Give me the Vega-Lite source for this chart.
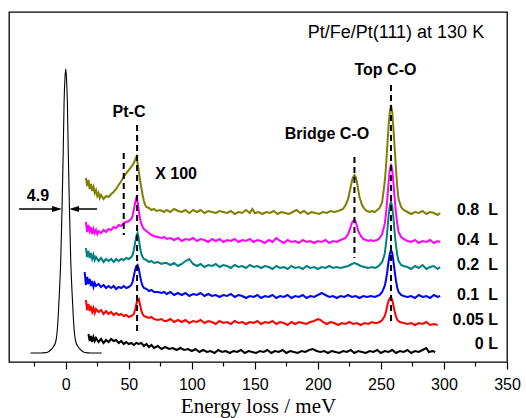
{
"$schema": "https://vega.github.io/schema/vega-lite/v6.json",
"width": 498, "height": 350,
"autosize": "none",
"padding": {"left": 9, "top": 12, "right": 19, "bottom": 56},
"background": "white",
"config": {"view": {"stroke": "#000", "strokeWidth": 1.3}, "font": "Liberation Sans"},
"datasets": {
"spec": [
{"s":"a","x":16,"y":184},{"s":"a","x":17,"y":176},{"s":"a","x":18,"y":182},{"s":"a","x":19,"y":173},{"s":"a","x":20,"y":178},{"s":"a","x":21,"y":171},{"s":"a","x":22,"y":175},{"s":"a","x":23,"y":169},{"s":"a","x":24,"y":172},{"s":"a","x":25,"y":166},{"s":"a","x":26,"y":169},{"s":"a","x":27,"y":164},{"s":"a","x":28,"y":167},{"s":"a","x":30,"y":163},{"s":"a","x":32,"y":166},{"s":"a","x":34,"y":165},{"s":"a","x":36,"y":168},{"s":"a","x":38,"y":170},{"s":"a","x":40,"y":173},{"s":"a","x":42,"y":177},{"s":"a","x":44,"y":181},{"s":"a","x":46,"y":185},{"s":"a","x":48,"y":189},{"s":"a","x":50,"y":192},{"s":"a","x":52,"y":195},{"s":"a","x":54,"y":199},{"s":"a","x":55,"y":202},{"s":"a","x":56,"y":205},{"s":"a","x":57,"y":199},{"s":"a","x":58,"y":190},{"s":"a","x":59,"y":181},{"s":"a","x":60,"y":174},{"s":"a","x":61,"y":167},{"s":"a","x":62,"y":161},{"s":"a","x":63,"y":157},{"s":"a","x":64,"y":155},{"s":"a","x":66,"y":154},{"s":"a","x":68,"y":152},{"s":"a","x":70,"y":153},{"s":"a","x":72,"y":151},{"s":"a","x":75,"y":152},{"s":"a","x":78,"y":150},
{"s":"a","x":80,"y":152},{"s":"a","x":83,"y":150},{"s":"a","x":86,"y":153},{"s":"a","x":89,"y":151},{"s":"a","x":92,"y":150},{"s":"a","x":95,"y":152},{"s":"a","x":98,"y":149},{"s":"a","x":101,"y":152},{"s":"a","x":104,"y":150},{"s":"a","x":107,"y":152},{"s":"a","x":110,"y":149},{"s":"a","x":113,"y":151},{"s":"a","x":116,"y":150},{"s":"a","x":119,"y":149},{"s":"a","x":122,"y":151},{"s":"a","x":125,"y":150},{"s":"a","x":128,"y":149},{"s":"a","x":131,"y":151},{"s":"a","x":134,"y":148},{"s":"a","x":137,"y":150},{"s":"a","x":140,"y":149},{"s":"a","x":143,"y":152},{"s":"a","x":146,"y":149},{"s":"a","x":148,"y":153},{"s":"a","x":150,"y":149},{"s":"a","x":153,"y":150},{"s":"a","x":156,"y":148},{"s":"a","x":159,"y":150},{"s":"a","x":162,"y":149},{"s":"a","x":165,"y":151},{"s":"a","x":168,"y":148},{"s":"a","x":171,"y":150},{"s":"a","x":174,"y":149},{"s":"a","x":177,"y":148},{"s":"a","x":180,"y":150},{"s":"a","x":183,"y":152},{"s":"a","x":186,"y":149},{"s":"a","x":189,"y":151},{"s":"a","x":192,"y":148},{"s":"a","x":195,"y":150},{"s":"a","x":198,"y":149},{"s":"a","x":201,"y":148},{"s":"a","x":204,"y":150},{"s":"a","x":207,"y":149},{"s":"a","x":210,"y":151},{"s":"a","x":213,"y":150},{"s":"a","x":216,"y":151},
{"s":"a","x":218,"y":152},{"s":"a","x":220,"y":153},{"s":"a","x":222,"y":157},{"s":"a","x":224,"y":163},{"s":"a","x":226,"y":175},{"s":"a","x":227,"y":181},{"s":"a","x":228,"y":185},{"s":"a","x":229,"y":187},{"s":"a","x":230,"y":185},{"s":"a","x":231,"y":180},{"s":"a","x":232,"y":172},{"s":"a","x":233,"y":165},{"s":"a","x":235,"y":157},{"s":"a","x":237,"y":153},{"s":"a","x":239,"y":151},{"s":"a","x":241,"y":150},{"s":"a","x":243,"y":151},{"s":"a","x":245,"y":150},
{"s":"a","x":247,"y":152},{"s":"a","x":249,"y":154},{"s":"a","x":251,"y":160},{"s":"a","x":253,"y":180},{"s":"a","x":254,"y":195},{"s":"a","x":255,"y":215},{"s":"a","x":256,"y":235},{"s":"a","x":257,"y":250},{"s":"a","x":258,"y":257},{"s":"a","x":259,"y":250},{"s":"a","x":260,"y":232},{"s":"a","x":261,"y":212},{"s":"a","x":262,"y":192},{"s":"a","x":263,"y":175},{"s":"a","x":264,"y":163},{"s":"a","x":266,"y":155},{"s":"a","x":268,"y":152},{"s":"a","x":271,"y":150},
{"s":"a","x":274,"y":148},{"s":"a","x":277,"y":150},{"s":"a","x":280,"y":149},{"s":"a","x":283,"y":151},{"s":"a","x":286,"y":148},{"s":"a","x":289,"y":150},{"s":"a","x":292,"y":149},{"s":"a","x":295,"y":147},{"s":"a","x":297,"y":149},

{"s":"b","x":16,"y":140},{"s":"b","x":17,"y":130},{"s":"b","x":18,"y":137},{"s":"b","x":19,"y":131},{"s":"b","x":20,"y":135},{"s":"b","x":21,"y":128},{"s":"b","x":22,"y":133},{"s":"b","x":23,"y":129},{"s":"b","x":24,"y":132},{"s":"b","x":25,"y":128},{"s":"b","x":26,"y":131},{"s":"b","x":28,"y":129},{"s":"b","x":30,"y":132},{"s":"b","x":32,"y":130},{"s":"b","x":34,"y":133},{"s":"b","x":36,"y":132},{"s":"b","x":38,"y":135},{"s":"b","x":40,"y":134},{"s":"b","x":42,"y":137},{"s":"b","x":44,"y":136},{"s":"b","x":46,"y":139},{"s":"b","x":48,"y":140},{"s":"b","x":50,"y":141},{"s":"b","x":52,"y":143},{"s":"b","x":53,"y":146},{"s":"b","x":54,"y":152},{"s":"b","x":55,"y":159},{"s":"b","x":56,"y":164},{"s":"b","x":57,"y":160},{"s":"b","x":58,"y":151},{"s":"b","x":59,"y":143},{"s":"b","x":60,"y":138},{"s":"b","x":61,"y":135},{"s":"b","x":62,"y":133},{"s":"b","x":64,"y":131},{"s":"b","x":66,"y":129},{"s":"b","x":68,"y":127},{"s":"b","x":70,"y":126},{"s":"b","x":73,"y":125},{"s":"b","x":76,"y":124},{"s":"b","x":78,"y":125},
{"s":"b","x":80,"y":123},{"s":"b","x":83,"y":124},{"s":"b","x":86,"y":122},{"s":"b","x":89,"y":124},{"s":"b","x":92,"y":121},{"s":"b","x":95,"y":123},{"s":"b","x":98,"y":122},{"s":"b","x":101,"y":124},{"s":"b","x":104,"y":121},{"s":"b","x":107,"y":123},{"s":"b","x":110,"y":122},{"s":"b","x":113,"y":120},{"s":"b","x":116,"y":123},{"s":"b","x":119,"y":121},{"s":"b","x":122,"y":123},{"s":"b","x":125,"y":120},{"s":"b","x":128,"y":122},{"s":"b","x":131,"y":121},{"s":"b","x":134,"y":123},{"s":"b","x":137,"y":120},{"s":"b","x":140,"y":122},{"s":"b","x":143,"y":121},{"s":"b","x":146,"y":123},{"s":"b","x":149,"y":120},{"s":"b","x":152,"y":122},{"s":"b","x":155,"y":121},{"s":"b","x":158,"y":119},{"s":"b","x":161,"y":122},{"s":"b","x":164,"y":120},{"s":"b","x":167,"y":124},{"s":"b","x":170,"y":121},{"s":"b","x":173,"y":119},{"s":"b","x":176,"y":122},{"s":"b","x":179,"y":120},{"s":"b","x":182,"y":121},{"s":"b","x":185,"y":119},{"s":"b","x":188,"y":122},{"s":"b","x":191,"y":120},{"s":"b","x":194,"y":121},{"s":"b","x":197,"y":119},{"s":"b","x":200,"y":121},{"s":"b","x":203,"y":120},{"s":"b","x":206,"y":122},{"s":"b","x":209,"y":119},{"s":"b","x":212,"y":121},{"s":"b","x":215,"y":120},
{"s":"b","x":218,"y":122},{"s":"b","x":220,"y":123},{"s":"b","x":222,"y":124},{"s":"b","x":224,"y":128},{"s":"b","x":226,"y":135},{"s":"b","x":227,"y":139},{"s":"b","x":228,"y":141},{"s":"b","x":229,"y":142},{"s":"b","x":230,"y":140},{"s":"b","x":231,"y":136},{"s":"b","x":232,"y":131},{"s":"b","x":234,"y":126},{"s":"b","x":236,"y":123},{"s":"b","x":238,"y":122},{"s":"b","x":240,"y":121},{"s":"b","x":242,"y":122},{"s":"b","x":244,"y":121},
{"s":"b","x":247,"y":122},{"s":"b","x":249,"y":124},{"s":"b","x":251,"y":128},{"s":"b","x":253,"y":138},{"s":"b","x":254,"y":148},{"s":"b","x":255,"y":162},{"s":"b","x":256,"y":178},{"s":"b","x":257,"y":192},{"s":"b","x":258,"y":198},{"s":"b","x":259,"y":192},{"s":"b","x":260,"y":178},{"s":"b","x":261,"y":162},{"s":"b","x":262,"y":148},{"s":"b","x":263,"y":138},{"s":"b","x":264,"y":130},{"s":"b","x":266,"y":125},{"s":"b","x":268,"y":123},{"s":"b","x":271,"y":121},
{"s":"b","x":274,"y":120},{"s":"b","x":277,"y":122},{"s":"b","x":280,"y":119},{"s":"b","x":283,"y":121},{"s":"b","x":286,"y":120},{"s":"b","x":289,"y":122},{"s":"b","x":292,"y":119},{"s":"b","x":295,"y":121},{"s":"b","x":297,"y":120},

{"s":"c","x":16,"y":114},{"s":"c","x":17,"y":105},{"s":"c","x":18,"y":111},{"s":"c","x":19,"y":104},{"s":"c","x":20,"y":109},{"s":"c","x":21,"y":103},{"s":"c","x":22,"y":107},{"s":"c","x":23,"y":102},{"s":"c","x":24,"y":105},{"s":"c","x":26,"y":101},{"s":"c","x":28,"y":104},{"s":"c","x":30,"y":100},{"s":"c","x":32,"y":103},{"s":"c","x":34,"y":101},{"s":"c","x":36,"y":103},{"s":"c","x":38,"y":100},{"s":"c","x":40,"y":103},{"s":"c","x":42,"y":101},{"s":"c","x":44,"y":103},{"s":"c","x":46,"y":102},{"s":"c","x":48,"y":104},{"s":"c","x":50,"y":103},{"s":"c","x":52,"y":105},{"s":"c","x":53,"y":107},{"s":"c","x":54,"y":112},{"s":"c","x":55,"y":119},{"s":"c","x":56,"y":126},{"s":"c","x":57,"y":129},{"s":"c","x":58,"y":123},{"s":"c","x":59,"y":114},{"s":"c","x":60,"y":108},{"s":"c","x":61,"y":105},{"s":"c","x":62,"y":103},{"s":"c","x":64,"y":102},{"s":"c","x":66,"y":100},{"s":"c","x":68,"y":101},{"s":"c","x":70,"y":99},{"s":"c","x":73,"y":100},{"s":"c","x":76,"y":98},{"s":"c","x":78,"y":99},
{"s":"c","x":80,"y":99},{"s":"c","x":83,"y":97},{"s":"c","x":86,"y":99},{"s":"c","x":89,"y":96},{"s":"c","x":92,"y":98},{"s":"c","x":95,"y":101},{"s":"c","x":98,"y":103},{"s":"c","x":101,"y":98},{"s":"c","x":104,"y":96},{"s":"c","x":107,"y":98},{"s":"c","x":110,"y":95},{"s":"c","x":113,"y":97},{"s":"c","x":116,"y":96},{"s":"c","x":119,"y":98},{"s":"c","x":122,"y":95},{"s":"c","x":125,"y":97},{"s":"c","x":128,"y":96},{"s":"c","x":131,"y":94},{"s":"c","x":134,"y":97},{"s":"c","x":137,"y":95},{"s":"c","x":140,"y":96},{"s":"c","x":143,"y":94},{"s":"c","x":146,"y":97},{"s":"c","x":149,"y":95},{"s":"c","x":152,"y":96},{"s":"c","x":155,"y":94},{"s":"c","x":158,"y":96},{"s":"c","x":161,"y":95},{"s":"c","x":164,"y":93},{"s":"c","x":167,"y":96},{"s":"c","x":170,"y":94},{"s":"c","x":173,"y":95},{"s":"c","x":176,"y":93},{"s":"c","x":179,"y":96},{"s":"c","x":182,"y":94},{"s":"c","x":185,"y":95},{"s":"c","x":188,"y":93},{"s":"c","x":191,"y":96},{"s":"c","x":194,"y":94},{"s":"c","x":197,"y":95},{"s":"c","x":200,"y":93},{"s":"c","x":203,"y":95},{"s":"c","x":206,"y":94},{"s":"c","x":209,"y":96},{"s":"c","x":212,"y":94},{"s":"c","x":215,"y":95},{"s":"c","x":218,"y":94},{"s":"c","x":221,"y":95},
{"s":"c","x":224,"y":96},{"s":"c","x":227,"y":98},{"s":"c","x":229,"y":99},{"s":"c","x":231,"y":98},{"s":"c","x":234,"y":96},{"s":"c","x":237,"y":95},{"s":"c","x":240,"y":94},{"s":"c","x":243,"y":95},{"s":"c","x":245,"y":94},
{"s":"c","x":247,"y":95},{"s":"c","x":249,"y":97},{"s":"c","x":251,"y":100},{"s":"c","x":253,"y":108},{"s":"c","x":254,"y":118},{"s":"c","x":255,"y":130},{"s":"c","x":256,"y":145},{"s":"c","x":257,"y":156},{"s":"c","x":258,"y":160},{"s":"c","x":259,"y":155},{"s":"c","x":260,"y":143},{"s":"c","x":261,"y":128},{"s":"c","x":262,"y":116},{"s":"c","x":263,"y":107},{"s":"c","x":264,"y":101},{"s":"c","x":266,"y":97},{"s":"c","x":268,"y":96},{"s":"c","x":271,"y":95},
{"s":"c","x":274,"y":93},{"s":"c","x":277,"y":96},{"s":"c","x":280,"y":94},{"s":"c","x":283,"y":97},{"s":"c","x":286,"y":93},{"s":"c","x":289,"y":95},{"s":"c","x":292,"y":96},{"s":"c","x":295,"y":93},{"s":"c","x":297,"y":95},

{"s":"d","x":15,"y":90},{"s":"d","x":16,"y":77},{"s":"d","x":17,"y":85},{"s":"d","x":18,"y":78},{"s":"d","x":19,"y":83},{"s":"d","x":20,"y":76},{"s":"d","x":21,"y":81},{"s":"d","x":22,"y":75},{"s":"d","x":23,"y":79},{"s":"d","x":24,"y":76},{"s":"d","x":26,"y":78},{"s":"d","x":28,"y":75},{"s":"d","x":30,"y":77},{"s":"d","x":32,"y":74},{"s":"d","x":34,"y":76},{"s":"d","x":36,"y":74},{"s":"d","x":38,"y":76},{"s":"d","x":40,"y":73},{"s":"d","x":42,"y":75},{"s":"d","x":44,"y":74},{"s":"d","x":46,"y":76},{"s":"d","x":48,"y":74},{"s":"d","x":50,"y":75},{"s":"d","x":52,"y":77},{"s":"d","x":53,"y":80},{"s":"d","x":54,"y":86},{"s":"d","x":55,"y":92},{"s":"d","x":56,"y":96},{"s":"d","x":57,"y":97},{"s":"d","x":58,"y":93},{"s":"d","x":59,"y":86},{"s":"d","x":60,"y":80},{"s":"d","x":61,"y":76},{"s":"d","x":62,"y":74},{"s":"d","x":64,"y":73},{"s":"d","x":66,"y":71},{"s":"d","x":68,"y":72},{"s":"d","x":70,"y":70},{"s":"d","x":73,"y":70},{"s":"d","x":76,"y":69},{"s":"d","x":78,"y":70},
{"s":"d","x":80,"y":68},{"s":"d","x":83,"y":70},{"s":"d","x":86,"y":67},{"s":"d","x":89,"y":69},{"s":"d","x":92,"y":67},{"s":"d","x":95,"y":69},{"s":"d","x":98,"y":66},{"s":"d","x":101,"y":68},{"s":"d","x":104,"y":67},{"s":"d","x":107,"y":69},{"s":"d","x":110,"y":66},{"s":"d","x":113,"y":68},{"s":"d","x":116,"y":66},{"s":"d","x":119,"y":67},{"s":"d","x":122,"y":65},{"s":"d","x":125,"y":67},{"s":"d","x":128,"y":66},{"s":"d","x":131,"y":68},{"s":"d","x":134,"y":65},{"s":"d","x":137,"y":67},{"s":"d","x":140,"y":66},{"s":"d","x":143,"y":64},{"s":"d","x":146,"y":66},{"s":"d","x":149,"y":65},{"s":"d","x":152,"y":67},{"s":"d","x":155,"y":64},{"s":"d","x":158,"y":66},{"s":"d","x":161,"y":65},{"s":"d","x":164,"y":67},{"s":"d","x":167,"y":64},{"s":"d","x":170,"y":66},{"s":"d","x":173,"y":65},{"s":"d","x":176,"y":67},{"s":"d","x":179,"y":64},{"s":"d","x":182,"y":66},{"s":"d","x":185,"y":65},{"s":"d","x":188,"y":67},{"s":"d","x":191,"y":64},{"s":"d","x":194,"y":66},{"s":"d","x":197,"y":65},{"s":"d","x":200,"y":67},{"s":"d","x":203,"y":69},{"s":"d","x":206,"y":67},{"s":"d","x":209,"y":65},{"s":"d","x":212,"y":66},{"s":"d","x":215,"y":64},{"s":"d","x":218,"y":66},{"s":"d","x":221,"y":65},{"s":"d","x":224,"y":67},{"s":"d","x":227,"y":65},{"s":"d","x":230,"y":66},{"s":"d","x":233,"y":64},{"s":"d","x":236,"y":66},{"s":"d","x":239,"y":65},{"s":"d","x":242,"y":66},{"s":"d","x":245,"y":65},
{"s":"d","x":247,"y":66},{"s":"d","x":249,"y":67},{"s":"d","x":251,"y":70},{"s":"d","x":253,"y":76},{"s":"d","x":254,"y":82},{"s":"d","x":255,"y":90},{"s":"d","x":256,"y":100},{"s":"d","x":257,"y":108},{"s":"d","x":258,"y":112},{"s":"d","x":259,"y":109},{"s":"d","x":260,"y":100},{"s":"d","x":261,"y":90},{"s":"d","x":262,"y":81},{"s":"d","x":263,"y":74},{"s":"d","x":264,"y":70},{"s":"d","x":266,"y":67},{"s":"d","x":268,"y":66},{"s":"d","x":271,"y":65},
{"s":"d","x":274,"y":66},{"s":"d","x":277,"y":64},{"s":"d","x":280,"y":67},{"s":"d","x":283,"y":65},{"s":"d","x":286,"y":66},{"s":"d","x":289,"y":64},{"s":"d","x":292,"y":67},{"s":"d","x":295,"y":65},{"s":"d","x":297,"y":66},

{"s":"e","x":16,"y":62},{"s":"e","x":17,"y":52},{"s":"e","x":18,"y":58},{"s":"e","x":19,"y":51},{"s":"e","x":20,"y":56},{"s":"e","x":21,"y":50},{"s":"e","x":22,"y":54},{"s":"e","x":23,"y":49},{"s":"e","x":24,"y":53},{"s":"e","x":26,"y":50},{"s":"e","x":28,"y":52},{"s":"e","x":30,"y":48},{"s":"e","x":32,"y":51},{"s":"e","x":34,"y":48},{"s":"e","x":36,"y":50},{"s":"e","x":38,"y":47},{"s":"e","x":40,"y":49},{"s":"e","x":42,"y":47},{"s":"e","x":44,"y":48},{"s":"e","x":46,"y":46},{"s":"e","x":48,"y":47},{"s":"e","x":50,"y":45},{"s":"e","x":52,"y":46},{"s":"e","x":54,"y":48},{"s":"e","x":55,"y":52},{"s":"e","x":56,"y":58},{"s":"e","x":57,"y":62},{"s":"e","x":58,"y":63},{"s":"e","x":59,"y":57},{"s":"e","x":60,"y":51},{"s":"e","x":61,"y":48},{"s":"e","x":62,"y":46},{"s":"e","x":64,"y":45},{"s":"e","x":66,"y":44},{"s":"e","x":68,"y":45},{"s":"e","x":70,"y":43},{"s":"e","x":73,"y":42},{"s":"e","x":76,"y":43},{"s":"e","x":78,"y":41},
{"s":"e","x":80,"y":41},{"s":"e","x":83,"y":43},{"s":"e","x":86,"y":40},{"s":"e","x":89,"y":42},{"s":"e","x":92,"y":40},{"s":"e","x":95,"y":42},{"s":"e","x":98,"y":39},{"s":"e","x":101,"y":41},{"s":"e","x":104,"y":40},{"s":"e","x":107,"y":42},{"s":"e","x":110,"y":39},{"s":"e","x":113,"y":41},{"s":"e","x":116,"y":40},{"s":"e","x":119,"y":38},{"s":"e","x":122,"y":41},{"s":"e","x":125,"y":39},{"s":"e","x":128,"y":40},{"s":"e","x":131,"y":38},{"s":"e","x":134,"y":41},{"s":"e","x":137,"y":39},{"s":"e","x":140,"y":40},{"s":"e","x":143,"y":38},{"s":"e","x":146,"y":40},{"s":"e","x":149,"y":39},{"s":"e","x":152,"y":41},{"s":"e","x":155,"y":38},{"s":"e","x":158,"y":40},{"s":"e","x":161,"y":39},{"s":"e","x":164,"y":41},{"s":"e","x":167,"y":38},{"s":"e","x":170,"y":40},{"s":"e","x":173,"y":39},{"s":"e","x":176,"y":37},{"s":"e","x":179,"y":40},{"s":"e","x":182,"y":38},{"s":"e","x":185,"y":40},{"s":"e","x":188,"y":39},{"s":"e","x":191,"y":38},{"s":"e","x":194,"y":40},{"s":"e","x":197,"y":41},{"s":"e","x":200,"y":43},{"s":"e","x":202,"y":42},{"s":"e","x":204,"y":40},{"s":"e","x":207,"y":38},{"s":"e","x":210,"y":40},{"s":"e","x":213,"y":39},{"s":"e","x":216,"y":37},{"s":"e","x":219,"y":39},{"s":"e","x":222,"y":38},{"s":"e","x":225,"y":40},{"s":"e","x":228,"y":38},{"s":"e","x":231,"y":39},{"s":"e","x":234,"y":37},{"s":"e","x":237,"y":39},{"s":"e","x":240,"y":38},{"s":"e","x":243,"y":40},{"s":"e","x":245,"y":39},
{"s":"e","x":247,"y":39},{"s":"e","x":249,"y":40},{"s":"e","x":251,"y":42},{"s":"e","x":253,"y":46},{"s":"e","x":254,"y":50},{"s":"e","x":255,"y":56},{"s":"e","x":256,"y":61},{"s":"e","x":257,"y":64},{"s":"e","x":258,"y":65},{"s":"e","x":259,"y":62},{"s":"e","x":260,"y":56},{"s":"e","x":261,"y":50},{"s":"e","x":262,"y":45},{"s":"e","x":263,"y":42},{"s":"e","x":265,"y":40},{"s":"e","x":268,"y":39},
{"s":"e","x":271,"y":38},{"s":"e","x":274,"y":39},{"s":"e","x":277,"y":37},{"s":"e","x":280,"y":39},{"s":"e","x":283,"y":38},{"s":"e","x":286,"y":40},{"s":"e","x":289,"y":37},{"s":"e","x":292,"y":38},{"s":"e","x":295,"y":37},

{"s":"f","x":18,"y":28},{"s":"f","x":19,"y":21},{"s":"f","x":20,"y":26},{"s":"f","x":21,"y":20},{"s":"f","x":22,"y":25},{"s":"f","x":23,"y":21},{"s":"f","x":24,"y":24},{"s":"f","x":26,"y":20},{"s":"f","x":28,"y":23},{"s":"f","x":30,"y":19},{"s":"f","x":32,"y":22},{"s":"f","x":34,"y":20},{"s":"f","x":36,"y":23},{"s":"f","x":38,"y":21},{"s":"f","x":40,"y":22},{"s":"f","x":42,"y":19},{"s":"f","x":44,"y":21},{"s":"f","x":46,"y":18},{"s":"f","x":48,"y":20},{"s":"f","x":50,"y":18},{"s":"f","x":52,"y":19},{"s":"f","x":54,"y":17},{"s":"f","x":56,"y":19},{"s":"f","x":58,"y":18},{"s":"f","x":60,"y":19},{"s":"f","x":62,"y":16},{"s":"f","x":64,"y":18},{"s":"f","x":66,"y":15},{"s":"f","x":68,"y":17},{"s":"f","x":70,"y":14},{"s":"f","x":73,"y":16},{"s":"f","x":76,"y":13},{"s":"f","x":79,"y":15},{"s":"f","x":82,"y":13},{"s":"f","x":85,"y":14},{"s":"f","x":88,"y":12},{"s":"f","x":91,"y":14},{"s":"f","x":94,"y":12},{"s":"f","x":97,"y":13},
{"s":"f","x":100,"y":11},{"s":"f","x":103,"y":13},{"s":"f","x":106,"y":10},{"s":"f","x":109,"y":12},{"s":"f","x":112,"y":10},{"s":"f","x":115,"y":11},{"s":"f","x":118,"y":9},{"s":"f","x":121,"y":12},{"s":"f","x":124,"y":10},{"s":"f","x":127,"y":11},{"s":"f","x":130,"y":9},{"s":"f","x":133,"y":11},{"s":"f","x":136,"y":10},{"s":"f","x":139,"y":12},{"s":"f","x":142,"y":9},{"s":"f","x":145,"y":11},{"s":"f","x":148,"y":10},{"s":"f","x":151,"y":9},{"s":"f","x":154,"y":11},{"s":"f","x":157,"y":10},{"s":"f","x":160,"y":12},{"s":"f","x":163,"y":9},{"s":"f","x":166,"y":11},{"s":"f","x":169,"y":10},{"s":"f","x":172,"y":12},{"s":"f","x":175,"y":9},{"s":"f","x":178,"y":11},{"s":"f","x":181,"y":10},{"s":"f","x":184,"y":9},{"s":"f","x":187,"y":11},{"s":"f","x":190,"y":10},{"s":"f","x":193,"y":12},{"s":"f","x":196,"y":13},{"s":"f","x":199,"y":11},{"s":"f","x":202,"y":10},{"s":"f","x":205,"y":11},{"s":"f","x":208,"y":9},{"s":"f","x":211,"y":11},{"s":"f","x":214,"y":10},{"s":"f","x":217,"y":9},{"s":"f","x":220,"y":11},{"s":"f","x":223,"y":10},{"s":"f","x":226,"y":12},{"s":"f","x":229,"y":9},{"s":"f","x":232,"y":11},{"s":"f","x":235,"y":10},{"s":"f","x":238,"y":9},{"s":"f","x":241,"y":11},{"s":"f","x":244,"y":10},{"s":"f","x":247,"y":12},{"s":"f","x":250,"y":9},{"s":"f","x":253,"y":11},{"s":"f","x":256,"y":10},{"s":"f","x":259,"y":12},{"s":"f","x":262,"y":9},{"s":"f","x":265,"y":11},{"s":"f","x":268,"y":10},{"s":"f","x":271,"y":12},{"s":"f","x":274,"y":9},{"s":"f","x":277,"y":11},{"s":"f","x":280,"y":10},{"s":"f","x":283,"y":12},{"s":"f","x":286,"y":14},{"s":"f","x":288,"y":10},{"s":"f","x":291,"y":11},{"s":"f","x":293,"y":10}
],
"elastic": [
{"x":-28,"y":9},{"x":-20,"y":9},{"x":-15,"y":9.5},{"x":-12,"y":12},{"x":-10,"y":15},{"x":-8,"y":20},{"x":-7,"y":28},{"x":-6,"y":45},{"x":-5,"y":70},{"x":-4,"y":100},{"x":-3,"y":150},{"x":-2,"y":210},{"x":-1.3,"y":260},{"x":-0.6,"y":284},{"x":0,"y":293},{"x":0.6,"y":284},{"x":1.3,"y":260},{"x":2,"y":210},{"x":3,"y":150},{"x":4,"y":100},{"x":5,"y":70},{"x":6,"y":45},{"x":7,"y":28},{"x":8,"y":20},{"x":10,"y":15},{"x":12,"y":12},{"x":15,"y":9.5},{"x":20,"y":9},{"x":28.5,"y":9}
],
"dash": [
{"x":56.6,"y":237,"y2":30},{"x":46,"y":209,"y2":127},{"x":229,"y":205,"y2":104},{"x":258,"y":277,"y2":37}
],
"arrows": [
{"x":-37,"x2":-6.9,"y":153},{"x":24.8,"x2":6.6,"y":153}
],
"heads": [
{"x":-6.9,"y":153,"d":"r"},{"x":6.6,"y":153,"d":"l"}
],
"title": [{"t":"Pt/Fe/Pt(111) at 130 K","x":261.9,"y":329}],
"notes": [
{"t":"Top C-O","x":253.6,"y":292},{"t":"Pt-C","x":50.2,"y":250},{"t":"Bridge C-O","x":207.2,"y":228},{"t":"X 100","x":87.5,"y":188},{"t":"4.9","x":-22,"y":166}
],
"series": [
{"t":"0.8\u00a0\u00a0L","x":342.8,"y":152},{"t":"0.4\u00a0\u00a0L","x":342.8,"y":122},{"t":"0.2\u00a0\u00a0L","x":342.8,"y":97},{"t":"0.1\u00a0\u00a0L","x":342.8,"y":67},{"t":"0.05 L","x":342.8,"y":42},{"t":"0 L","x":342.8,"y":18}
]
},
"resolve": {"scale": {"x": "shared", "y": "shared"}, "axis": {"x": "independent"}},
"layer": [
{
"data": {"name": "spec"},
"mark": {"type": "line", "strokeWidth": 2, "interpolate": "linear"},
"encoding": {
"x": {"field": "x", "type": "quantitative", "scale": {"domain": [-45, 350], "nice": false, "zero": false},
"axis": {"orient": "bottom", "values": [0,50,100,150,200,250,300,350], "title": "Energy loss / meV", "domain": false, "grid": false, "tickSize": 7, "tickWidth": 1.2, "tickColor": "#000", "labelColor": "#000", "labelFont": "Liberation Sans", "labelFontSize": 16, "labelPadding": 7, "labelFlush": false, "titleFont": "Liberation Serif", "titleFontSize": 21, "titleFontWeight": "normal", "titleColor": "#000", "titlePadding": 3}},
"y": {"field": "y", "type": "quantitative", "scale": {"domain": [0, 350], "nice": false, "zero": false}, "axis": null},
"color": {"field": "s", "type": "nominal", "scale": {"domain": ["a","b","c","d","e","f"], "range": ["#808000","#FF00FF","#008080","#0000FF","#FF0000","#000000"]}, "legend": null}
}
},
{
"data": {"name": "elastic"},
"mark": {"type": "line", "strokeWidth": 1.1, "color": "#000", "interpolate": "monotone"},
"encoding": {
"x": {"field": "x", "type": "quantitative", "axis": null},
"y": {"field": "y", "type": "quantitative"}
}
},
{
"data": {"name": "dash"},
"mark": {"type": "rule", "strokeWidth": 2, "color": "#000", "strokeDash": [6, 4]},
"encoding": {
"x": {"field": "x", "type": "quantitative", "axis": {"orient": "bottom", "values": [-25,25,75,125,175,225,275,325], "labels": false, "title": null, "domain": false, "grid": false, "tickSize": 4, "tickWidth": 1.2, "tickColor": "#000"}},
"y": {"field": "y", "type": "quantitative"},
"y2": {"field": "y2"}
}
},
{
"data": {"name": "arrows"},
"mark": {"type": "rule", "strokeWidth": 1.5, "color": "#000"},
"encoding": {
"x": {"field": "x", "type": "quantitative", "axis": null},
"x2": {"field": "x2"},
"y": {"field": "y", "type": "quantitative"}
}
},
{
"data": {"name": "heads"},
"mark": {"type": "point", "filled": true, "color": "#000", "opacity": 1, "size": 100},
"encoding": {
"x": {"field": "x", "type": "quantitative", "axis": null},
"y": {"field": "y", "type": "quantitative"},
"shape": {"field": "d", "type": "nominal", "scale": {"domain": ["r","l"], "range": ["M1,0L-1,-0.6L-1,0.6Z", "M-1,0L1,-0.6L1,0.6Z"]}, "legend": null}
}
},
{
"data": {"name": "title"},
"mark": {"type": "text", "font": "Liberation Sans", "fontSize": 18, "color": "#000", "align": "center", "baseline": "middle"},
"encoding": {
"x": {"field": "x", "type": "quantitative", "axis": null},
"y": {"field": "y", "type": "quantitative"},
"text": {"field": "t"}
}
},
{
"data": {"name": "notes"},
"mark": {"type": "text", "font": "Liberation Sans", "fontSize": 16, "fontWeight": "bold", "color": "#000", "align": "center", "baseline": "middle"},
"encoding": {
"x": {"field": "x", "type": "quantitative", "axis": null},
"y": {"field": "y", "type": "quantitative"},
"text": {"field": "t"}
}
},
{
"data": {"name": "series"},
"mark": {"type": "text", "font": "Liberation Sans", "fontSize": 16, "fontWeight": "bold", "color": "#000", "align": "right", "baseline": "middle"},
"encoding": {
"x": {"field": "x", "type": "quantitative", "axis": null},
"y": {"field": "y", "type": "quantitative"},
"text": {"field": "t"}
}
}
]
}
